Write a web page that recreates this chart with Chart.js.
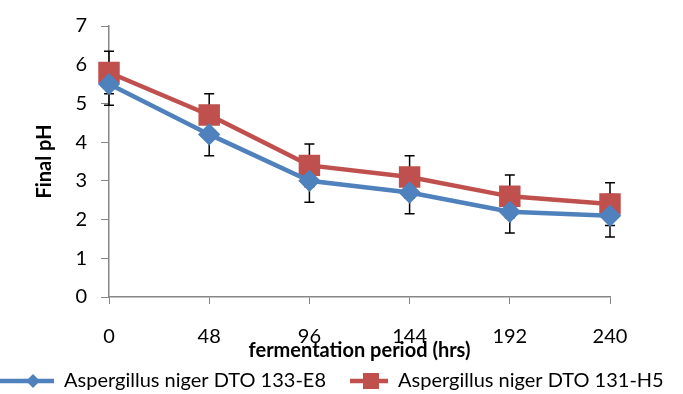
<!DOCTYPE html>
<html>
<head>
<meta charset="utf-8">
<script src="https://cdn.jsdelivr.net/npm/chart.js@4"></script>
<style>
  html, body { margin: 0; padding: 0; background: #fff; }
  #wrap { width: 683px; height: 394px; position: relative; }
</style>
</head>
<body>
<div id="wrap"><canvas id="phChart"></canvas></div>
<script>
// Datos
const periodos = ['0', '48', '96', '144', '192', '240'];
const phE8 = [5.5, 4.2, 3.0, 2.7, 2.2, 2.1];
const phH5 = [5.8, 4.7, 3.4, 3.1, 2.6, 2.4];
const errE8 = [0.55, 0.55, 0.55, 0.55, 0.55, 0.55];
const errH5 = [0.55, 0.55, 0.55, 0.55, 0.55, 0.55];
const ticksY = [0, 1, 2, 3, 4, 5, 6, 7];

const azul = '#4F81BD';
const rojo = '#C0504D';
const fuente = 'Lato, "Open Sans", sans-serif';

// Icono de leyenda: línea + marcador (inicio = margen vacío a la izquierda)
function iconoLeyenda(color, forma, inicio) {
    const c = document.createElement('canvas');
    c.width = 54; c.height = 20;
    const ctx = c.getContext('2d');
    ctx.strokeStyle = color;
    ctx.lineWidth = 4.5;
    ctx.beginPath();
    ctx.moveTo(inicio, 10); ctx.lineTo(54, 10);
    ctx.stroke();
    ctx.fillStyle = color;
    ctx.beginPath();
    if (forma === 'rombo') {
        ctx.moveTo(33, 3); ctx.lineTo(40, 10); ctx.lineTo(33, 17); ctx.lineTo(26, 10);
    } else {
        ctx.rect(29, 2, 16, 16);
    }
    ctx.closePath();
    ctx.fill();
    return c;
}

// Barras de error dibujadas bajo los marcadores
const barrasError = {
    id: 'barrasError',
    beforeDatasetsDraw(chart) {
        const ctx = chart.ctx;
        const y = chart.scales.y;
        const errores = [errE8, errH5];
        ctx.save();
        ctx.strokeStyle = '#000';
        ctx.lineWidth = 1.5;
        chart.data.datasets.forEach((ds, i) => {
            const meta = chart.getDatasetMeta(i);
            meta.data.forEach((pt, j) => {
                const v = ds.data[j];
                const e = errores[i][j];
                const yTop = y.getPixelForValue(v + e);
                const yBot = y.getPixelForValue(v - e);
                ctx.beginPath();
                ctx.moveTo(pt.x, yTop); ctx.lineTo(pt.x, yBot);
                ctx.moveTo(pt.x - 5, yTop); ctx.lineTo(pt.x + 5, yTop);
                ctx.moveTo(pt.x - 5, yBot); ctx.lineTo(pt.x + 5, yBot);
                ctx.stroke();
            });
        });
        ctx.restore();
    }
};

const iconos = [iconoLeyenda(azul, 'rombo', 0), iconoLeyenda(rojo, 'cuadro', 16)];

new Chart(document.getElementById('phChart').getContext('2d'), {
    type: 'line',
    data: {
        labels: periodos,
        datasets: [
            {
                label: 'Aspergillus niger DTO 133-E8',
                data: phE8,
                borderColor: azul,
                backgroundColor: azul,
                borderWidth: 4.5,
                pointStyle: 'rectRot',
                pointRadius: 8,
                tension: 0
            },
            {
                label: 'Aspergillus niger DTO 131-H5',
                data: phH5,
                borderColor: rojo,
                backgroundColor: rojo,
                borderWidth: 4.5,
                pointStyle: 'rect',
                pointRadius: 12,
                tension: 0
            }
        ]
    },
    options: {
        responsive: true,
        maintainAspectRatio: false,
        animation: false,
        layout: { padding: { left: -8, right: 0, top: 20, bottom: -7 } },
        plugins: {
            legend: {
                position: 'bottom',
                align: 'start',
                labels: {
                    usePointStyle: true,
                    pointStyleWidth: 54,
                    padding: 8,
                    color: '#000',
                    font: { family: fuente, size: 20 },
                    generateLabels(chart) {
                        return chart.data.datasets.map((ds, i) => ({
                            text: ds.label,
                            pointStyle: iconos[i],
                            fillStyle: ds.borderColor,
                            strokeStyle: ds.borderColor,
                            lineWidth: 0,
                            fontColor: '#000',
                            datasetIndex: i
                        }));
                    }
                }
            },
            tooltip: { enabled: false }
        },
        scales: {
            x: {
                type: 'category',
                offset: false,
                grid: { drawOnChartArea: false, drawTicks: true, tickLength: 7, color: '#868686' },
                border: { color: '#868686', width: 1.5 },
                ticks: { color: '#000', padding: 21, font: { family: fuente, size: 20 }, maxRotation: 0 },
                title: {
                    display: true,
                    text: 'fermentation period (hrs)',
                    color: '#000',
                    padding: { top: -31, bottom: 0 },
                    font: { family: fuente, size: 20, weight: 'bold' }
                }
            },
            y: {
                min: 0,
                max: 7,
                afterBuildTicks(axis) { axis.ticks = ticksY.map(v => ({ value: v })); },
                afterFit(axis) { axis.width = 117; },
                grid: { drawOnChartArea: false, drawTicks: true, tickLength: 8, color: '#868686' },
                border: { color: '#868686', width: 1.5 },
                ticks: { color: '#000', padding: 14, font: { family: fuente, size: 20 } },
                title: {
                    display: true,
                    text: 'Final pH',
                    color: '#000',
                    padding: { top: 41, bottom: 0 },
                    font: { family: fuente, size: 20, weight: 'bold' }
                }
            },
            // eje vacío a la derecha para reservar el margen
            margenDer: {
                type: 'linear',
                position: 'right',
                afterFit(axis) { axis.width = 73; },
                grid: { display: false },
                border: { display: false },
                ticks: { display: false }
            }
        }
    },
    plugins: [barrasError]
});
</script>
</body>
</html>
